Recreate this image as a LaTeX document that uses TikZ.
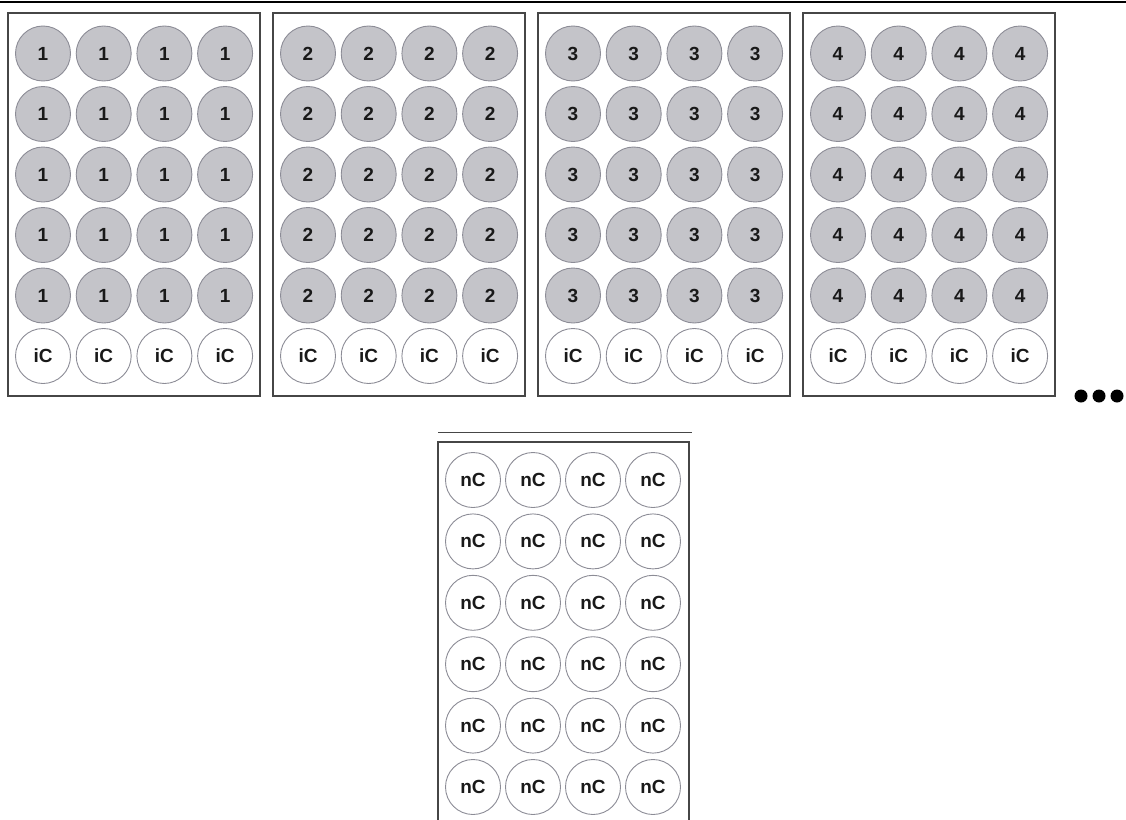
\documentclass[tikz,border=0pt]{standalone}
\usepackage{fontspec}
\setmainfont{Liberation Sans}
\definecolor{wellfill}{RGB}{196,196,201}
\definecolor{wellrim}{RGB}{140,140,150}
\definecolor{platerim}{RGB}{70,70,70}
\tikzset{
  well/.style={circle, draw=wellrim, line width=0.9pt, fill=wellfill, minimum size=55pt,
    inner sep=0pt, text=black!90, font=\fontsize{19}{22}\selectfont\bfseries},
  blankwell/.style={well, fill=white},
  plate/.style={draw=platerim, line width=1.8pt},
}
\begin{document}
\begin{tikzpicture}[x=1pt, y=-1pt]
    \useasboundingbox (0,0) rectangle (1126,819);

    % Rule across the top
    \draw[line width=2.2pt] (0,2) -- (1126,2);

    % Four treated plates: five rows of sample wells and one row of iC
    \foreach \p/\x in {1/8, 2/273, 3/538, 4/803} {
        \draw[plate] (\x,13) rectangle ++(252,383);
        \foreach \c in {0,...,3} {
            \foreach \r in {0,...,4}
                \node[well] (w-\p-\r-\c) at (\x+35+60.7*\c, 53.5+60.5*\r) {\p};
            \node[blankwell] (w-\p-5-\c) at (\x+35+60.7*\c, 356) {iC};
        }
    }

    % More plates follow
    \foreach \i/\x in {1/1081, 2/1099, 3/1117}
        \fill (\x,396) circle (6.5pt) coordinate (dot-\i);

    % Control plate, cut off at the bottom
    \draw[platerim, line width=1pt] (438,432) -- (692,432);
    \draw[plate] (438,830) -- (438,442) -- (689,442) -- (689,830);
    \foreach \r in {0,...,5}
        \foreach \c in {0,...,3}
            \node[blankwell] (n-\r-\c) at (473+60*\c, 480+61.4*\r) {nC};
\end{tikzpicture}
\end{document}
